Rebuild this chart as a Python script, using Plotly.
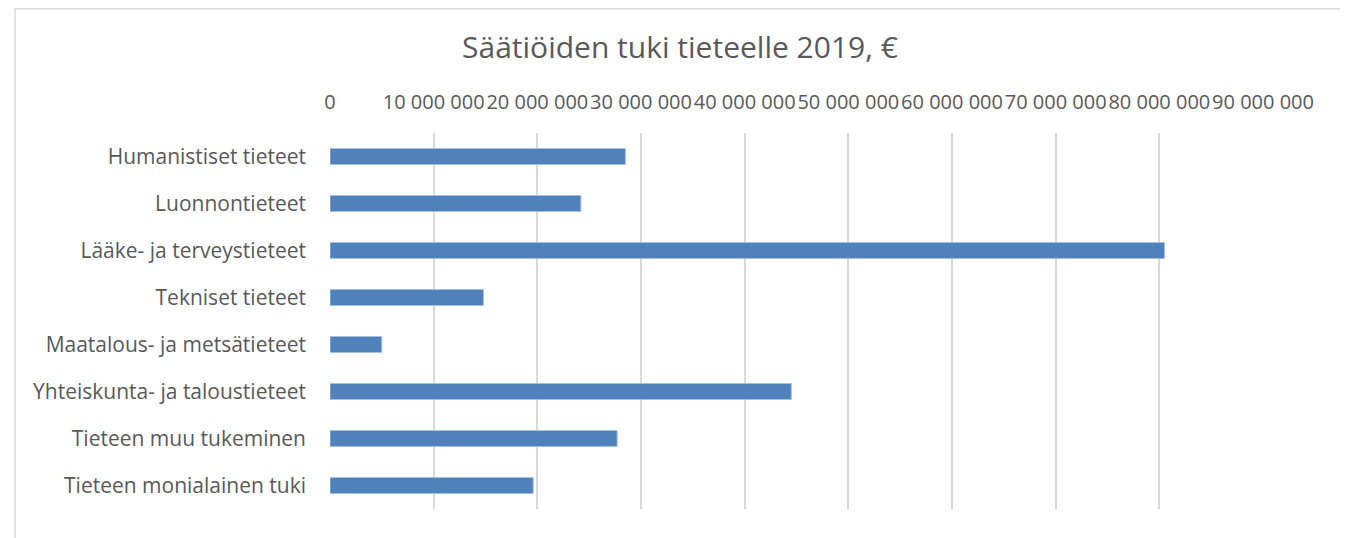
import plotly.graph_objects as go

categories = [
    "Humanistiset tieteet",
    "Luonnontieteet",
    "Lääke- ja terveystieteet",
    "Tekniset tieteet",
    "Maatalous- ja metsätieteet",
    "Yhteiskunta- ja taloustieteet",
    "Tieteen muu tukeminen",
    "Tieteen monialainen tuki",
]
values = [28500000, 24200000, 80500000, 14800000, 5000000, 44500000, 27700000, 19600000]
tick_values = [0, 10000000, 20000000, 30000000, 40000000, 50000000, 60000000, 70000000, 80000000, 90000000]
title_text = "Säätiöiden tuki tieteelle 2019, €"

FONT = "Open Sans"
TXT = "#595959"
# page body has an 8px default margin; figure coords = screen coords - 8
W, H = 1340, 530
L, R, T, B = 322, 85, 125, 29

fig = go.Figure(
    go.Bar(
        x=values,
        y=categories,
        orientation="h",
        marker=dict(color="#4F81BD", line=dict(color="#A7C0DE", width=1)),
    )
)

pw = W - L - R
ph = H - T - B
fx = lambda px: (px - L) / pw
fy = lambda py: (H - B - py) / ph

fig.update_layout(
    width=W,
    height=H,
    margin=dict(l=L, r=R, t=T, b=B, pad=0),
    paper_bgcolor="white",
    plot_bgcolor="white",
    separators=", ",
    font=dict(family=FONT, color=TXT, size=18),
    bargap=0.66,
    showlegend=False,
    title=dict(
        text=title_text,
        x=672 / W,
        xref="container",
        xanchor="center",
        y=1 - 39.5 / H,
        yref="container",
        yanchor="middle",
        font=dict(family=FONT, size=30, color=TXT),
    ),
    xaxis=dict(
        side="top",
        range=[0, 90000000],
        tickvals=tick_values,
        tickformat=",d",
        tickangle=0,
        showgrid=True,
        gridcolor="#D9D9D9",
        gridwidth=1.5,
        zeroline=False,
        showline=False,
        ticks="",
        ticklabelstandoff=19,
        tickfont=dict(family=FONT, size=20, color=TXT),
        fixedrange=True,
    ),
    yaxis=dict(
        categoryorder="array",
        categoryarray=categories,
        autorange="reversed",
        showgrid=False,
        zeroline=False,
        showline=False,
        ticks="",
        ticklabelstandoff=23,
        tickfont=dict(family=FONT, size=21, color=TXT),
        fixedrange=True,
    ),
    shapes=[
        dict(
            type="rect",
            xref="paper",
            yref="paper",
            x0=fx(7),
            x1=fx(1338),
            y0=fy(560),
            y1=fy(0.75),
            line=dict(color="#D9D9D9", width=1.5),
            fillcolor="rgba(0,0,0,0)",
            layer="below",
        )
    ],
)

fig.write_html("out.html")
